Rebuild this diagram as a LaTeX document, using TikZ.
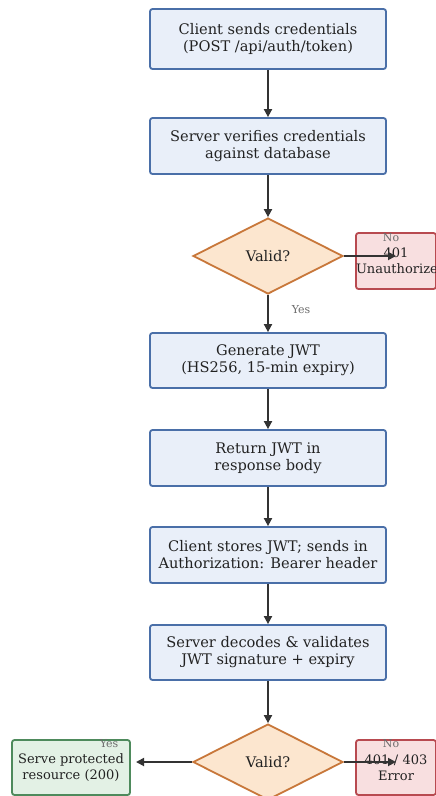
\documentclass[tikz,border=0pt]{standalone}
\usepackage{fontspec}
\setmainfont{DejaVu Serif}
\usetikzlibrary{shapes.geometric,arrows.meta}
\definecolor{procfill}{HTML}{E9EFF9}
\definecolor{procline}{HTML}{4A6FA8}
\definecolor{decfill}{HTML}{FCE6CF}
\definecolor{decline}{HTML}{C8773A}
\definecolor{errfill}{HTML}{F8DFE0}
\definecolor{errline}{HTML}{B84A50}
\definecolor{okfill}{HTML}{E3F1E5}
\definecolor{okline}{HTML}{4E8A5C}
\definecolor{arrowc}{HTML}{333333}
\definecolor{txt}{HTML}{222222}
\begin{document}
\begin{tikzpicture}[x=1pt,y=-1pt,
  every node/.style={font=\fontsize{14.6}{17}\selectfont, text=txt},
  procbox/.style={draw=procline, fill=procfill, line width=1.8pt, rounded corners=2.5pt,
    minimum width=236pt, minimum height=56pt, align=center, inner sep=0pt},
  decbox/.style={diamond, draw=decline, fill=decfill, line width=1.8pt, aspect=2,
    minimum width=150pt, minimum height=76pt, inner sep=0pt},
  errbox/.style={draw=errline, fill=errfill, line width=1.8pt, rounded corners=2.5pt,
    font=\fontsize{13}{16}\selectfont,
    minimum width=80pt, text width=80pt, minimum height=56pt, align=center, inner sep=0pt},
  okbox/.style={draw=okline, fill=okfill, line width=1.8pt, rounded corners=2.5pt,
    font=\fontsize{13}{16}\selectfont,
    minimum width=118pt, minimum height=55pt, align=center, inner sep=0pt},
  flow/.style={draw=arrowc, line width=1.8pt, -{Triangle[length=8pt,width=8pt]}},
  lbl/.style={font=\fontsize{11}{13}\selectfont, text=gray!85!black}
]
\useasboundingbox (0,0) rectangle (436,796);
\clip (0,0) rectangle (436,796);

\node[procbox, minimum height=60pt] (send) at (268,39) {Client sends credentials\\(POST /api/auth/token)};
\node[procbox] (verify) at (268,146) {Server verifies credentials\\against database};
\node[decbox] (valid1) at (268,256) {Valid?};
\node[errbox] (unauth) at (396,261) {401\\Unauthorized};
\node[procbox, minimum height=55pt] (gen) at (268,360.5) {Generate JWT\\(HS256, 15-min expiry)};
\node[procbox] (ret) at (268,458) {Return JWT in\\response body};
\node[procbox] (store) at (268,555) {Client stores JWT; sends in\\Authorization: Bearer header};
\node[procbox, minimum height=55pt] (decode) at (268,652.5) {Server decodes \& validates\\JWT signature + expiry};
\node[decbox] (valid2) at (268,762) {Valid?};
\node[okbox] (serve) at (71,767.5) {Serve protected\\resource (200)};
\node[errbox, minimum height=55pt] (err) at (396,767.5) {401 / 403\\Error};

\coordinate (unauthin) at (396,256);
\coordinate (errin) at (396,762);
\coordinate (servein) at (136,762);

\draw[flow] (send) -- (verify);
\draw[flow] (verify) -- (valid1);
\draw[flow] (valid1) -- (unauthin);
\draw[flow] (valid1) -- (gen);
\draw[flow] (gen) -- (ret);
\draw[flow] (ret) -- (store);
\draw[flow] (store) -- (decode);
\draw[flow] (decode) -- (valid2);
\draw[flow] (valid2.west) -- (servein);
\draw[flow] (valid2) -- (errin);

\node[lbl] (no1) at (391,238) {No};
\node[lbl] (yes1) at (301,310) {Yes};
\node[lbl] (yes2) at (109,744) {Yes};
\node[lbl] (no2) at (391,744) {No};
\end{tikzpicture}
\end{document}
